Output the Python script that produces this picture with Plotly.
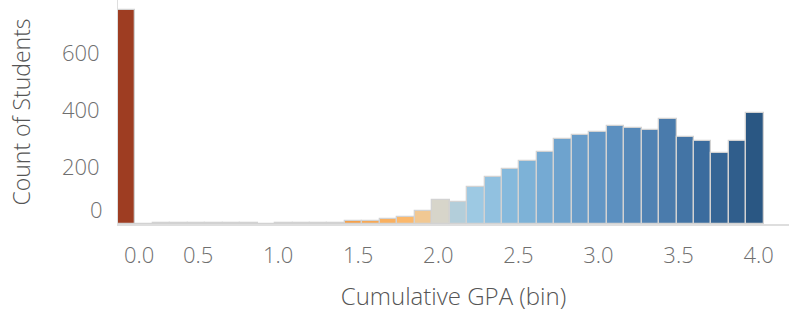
import plotly.graph_objects as go

# Bin starts (Tableau auto bin size ~0.109) and counts per bin
bin_size = 0.109
bin_starts = [0.000, 0.109, 0.218, 0.327, 0.436, 0.545, 0.654, 0.763, 0.872, 0.981,
              1.090, 1.199, 1.308, 1.417, 1.526, 1.635, 1.744, 1.853, 1.962, 2.071,
              2.180, 2.289, 2.398, 2.507, 2.616, 2.725, 2.834, 2.943, 3.052, 3.161,
              3.270, 3.379, 3.488, 3.597, 3.706, 3.815, 3.924]
counts = [751, 0, 3, 3, 3, 3, 3, 3, 0, 3,
          3, 4, 4, 12, 9, 18, 23, 46, 84, 77,
          129, 165, 192, 222, 254, 298, 313, 324, 345, 338,
          330, 368, 304, 292, 248, 292, 388]

x_tick_vals = [0.5, 1.0, 1.5, 2.0, 2.5, 3.0, 3.5, 4.0]
x_tick_text = ["0.5", "1.0", "1.5", "2.0", "2.5", "3.0", "3.5", "4.0"]
y_tick_vals = [200, 400, 600]
y_tick_text = ["200", "400", "600"]

colorscale = [
    [0.00, "#9E3D22"],
    [0.18, "#CF5A22"],
    [0.30, "#EE8A35"],
    [0.355, "#F5A04A"],
    [0.41, "#F9B060"],
    [0.436, "#FBB86C"],
    [0.463, "#F1C892"],
    [0.49, "#D8D5CA"],
    [0.518, "#B3CEDA"],
    [0.545, "#9DC9E3"],
    [0.60, "#85B9DC"],
    [0.68, "#6EA3CE"],
    [0.763, "#5C90C0"],
    [0.845, "#4A7BAC"],
    [0.90, "#3B6C9E"],
    [0.98, "#2A5783"],
    [1.00, "#2A5783"],
]

FONT = "Open Sans"
TICK_COLOR = "#6F6F6F"
TITLE_COLOR = "#555555"
tick_font = dict(size=22, color=TICK_COLOR, family=FONT, weight=300)

fig = go.Figure(go.Bar(
    x=bin_starts,
    y=counts,
    width=bin_size,
    offset=0,
    marker=dict(color=bin_starts, colorscale=colorscale, cmin=0, cmax=4,
                line=dict(color="#D2D2D2", width=1.3)),
    hoverinfo="x+y",
))

fig.update_layout(
    width=789, height=319,
    margin=dict(l=118, r=0, t=0, b=95),
    paper_bgcolor="white", plot_bgcolor="white",
    bargap=0,
    showlegend=False,
    font=dict(family=FONT, color=TICK_COLOR),
    xaxis=dict(
        range=[0, 4.19], tickvals=x_tick_vals, ticktext=x_tick_text,
        showgrid=False, zeroline=False, showline=True, linecolor="#DEDEDE", linewidth=2,
        ticks="", ticklabelstandoff=11,
        tickfont=tick_font,
        title=dict(text="Cumulative GPA (bin)",
                   font=dict(size=24, color=TITLE_COLOR, family=FONT, weight=300), standoff=20),
    ),
    yaxis=dict(
        range=[0, 786], tickvals=y_tick_vals, ticktext=y_tick_text,
        showgrid=False, zeroline=False, showline=True, linecolor="#DEDEDE", linewidth=1,
        ticks="", ticklabelstandoff=13,
        tickfont=tick_font,
        title=dict(text="Count of Students",
                   font=dict(size=23, color=TITLE_COLOR, family=FONT, weight=300), standoff=24),
    ),
    annotations=[
        dict(text="0", x=0, xref="paper", y=0, yref="y", xanchor="right", yanchor="middle",
             xshift=-13, yshift=15, showarrow=False, font=tick_font),
        dict(text="0.0", x=0, xref="x", y=0, yref="paper", xanchor="center", yanchor="top",
             xshift=21, yshift=-13, showarrow=False, font=tick_font),
    ],
)

fig.write_html("out.html", config={"displayModeBar": False},
               post_script="document.body.style.margin='0';")
